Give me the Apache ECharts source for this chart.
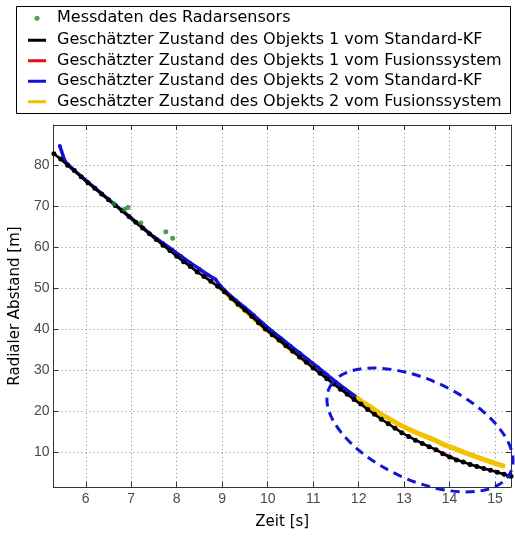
<!DOCTYPE html>
<html>
<head>
<meta charset="utf-8">
<script src="https://cdn.jsdelivr.net/npm/echarts@6/dist/echarts.min.js"></script>
<style>
html,body{margin:0;padding:0;background:#fff;}
#c{width:515px;height:538px;}
</style>
</head>
<body>
<div id="c"></div>
<script>
// ---- tick labels ----
var xTicks = [6, 7, 8, 9, 10, 11, 12, 13, 14, 15];
var yTicks = [10, 20, 30, 40, 50, 60, 70, 80];

// ---- series names ----
var names = [
  'Messdaten des Radarsensors',
  'Geschätzter Zustand des Objekts 1 vom Standard-KF',
  'Geschätzter Zustand des Objekts 1 vom Fusionssystem',
  'Geschätzter Zustand des Objekts 2 vom Standard-KF',
  'Geschätzter Zustand des Objekts 2 vom Fusionssystem'
];

// ---- radar measurements (time [s], distance [m]) ----
var measT = [6.62, 6.85, 6.93, 7.21, 7.76, 7.91];
var measR = [70.5, 69.2, 69.6, 65.8, 63.7, 62.1];

// ---- object 1, standard KF ----
var obj1KfT = [5.30,5.45,5.60,5.75,5.90,6.05,6.20,6.35,6.50,6.65,6.80,6.95,7.10,7.25,7.40,7.55,7.70,7.85,
  8.00,8.15,8.30,8.45,8.60,8.75,8.90,9.05,9.20,9.35,9.50,9.65,9.80,9.95,10.10,10.25,10.40,10.55,10.70,10.85,
  11.00,11.15,11.30,11.45,11.60,11.75,11.90,12.05,12.20,12.35,12.50,12.65,12.80,12.95,13.10,13.25,13.40,13.55,
  13.70,13.85,14.00,14.15,14.30,14.45,14.60,14.75,14.90,15.05,15.20,15.35];
var obj1KfR = [82.7,81.4,79.9,78.6,77.1,75.6,74.3,72.9,71.5,70.1,68.8,67.4,66.0,64.6,63.2,61.8,60.4,59.1,
  57.7,56.4,55.2,53.9,52.8,51.6,50.4,49.1,47.5,46.0,44.6,43.1,41.5,40.0,38.6,37.3,35.9,34.6,33.2,31.9,
  30.5,29.2,27.9,26.6,25.3,24.1,22.8,21.7,20.4,19.2,18.0,16.9,15.8,14.7,13.8,12.9,12.1,11.3,
  10.6,9.6,8.8,8.1,7.6,7.0,6.5,6.0,5.6,5.1,4.6,4.1];

// ---- object 1, fusion system (hidden beneath the KF estimate) ----
var obj1FusT = [5.30,5.90,6.50,7.10,7.70,8.30,8.90,9.50,10.10,10.70,11.30,11.90,12.50,13.10,13.70,14.30,14.90,15.35];
var obj1FusR = [82.7,77.1,71.5,66.0,60.4,55.2,50.4,44.6,38.6,33.2,27.9,22.8,18.0,13.8,10.6,7.6,5.6,4.1];

// ---- object 2, standard KF ----
var obj2KfT = [5.43,5.54,5.70,6.00,6.50,7.00,7.50,7.70,7.90,8.10,8.30,8.50,8.70,8.85,8.95,9.10,9.30,9.50,
  9.70,9.90,10.10,10.30,10.50,10.70,10.90,11.10,11.30,11.50,11.70,11.91];
var obj2KfR = [84.6,80.9,79.1,76.2,71.6,67.0,62.4,60.9,59.3,57.7,56.1,54.6,53.1,52.1,50.6,48.9,47.0,45.2,
  43.3,41.3,39.4,37.7,35.9,34.2,32.4,30.7,28.9,27.1,25.4,23.7];

// ---- object 2, fusion system ----
var obj2FusT = [8.90,9.10,9.30,9.50,9.70,9.90,10.10,10.30,10.50,10.70,10.90,11.10,11.30,11.50,11.70,11.90,
  12.10,12.30,12.50,12.70,12.90,13.10,13.30,13.50,13.70,13.90,14.10,14.30,14.50,14.70,14.90,15.10,15.22];
var obj2FusR = [50.6,48.6,46.6,44.6,42.6,40.6,38.8,37.0,35.2,33.4,31.7,30.0,28.4,26.8,25.2,23.7,
  22.1,20.7,19.2,17.9,16.7,15.6,14.6,13.7,12.8,11.7,10.9,10.0,9.2,8.4,7.6,6.9,6.5];

function pairs(t, r) { return t.map(function (v, i) { return [v, r[i]]; }); }

var X_MIN = 5.29, X_MAX = 15.35, Y_MIN = 1.5, Y_MAX = 89.7;
var gridLine = { show: true, lineStyle: { color: '#8a8a8a', width: 1, type: [1, 3] } };
var boxLine = { show: true, lineStyle: { color: '#333', width: 1 } };
var labelFont = { color: '#4a4a4a', fontFamily: 'Liberation Sans', fontSize: 14 };

var chart = echarts.init(document.getElementById('c'), null, { renderer: 'canvas' });
var lineIcon = 'path://M0,0 L18,0 L18,3 L0,3 Z';

chart.setOption({
  animation: false,
  backgroundColor: '#fff',
  grid: { left: 50, right: 4, top: 125, bottom: 51, containLabel: false },
  legend: [
    {
      data: [{ name: names[0], icon: 'circle' }],
      orient: 'vertical', left: 34.5, top: 8, padding: 0,
      itemWidth: 18, itemHeight: 5, itemGap: 0,
      textStyle: { fontFamily: 'DejaVu Sans', fontSize: 16, color: '#000', lineHeight: 20.5, padding: [0, 0, 0, 6] },
      selectedMode: false
    },
    {
      data: names.slice(1).map(function (n) { return { name: n, icon: lineIcon }; }),
      orient: 'vertical', left: 28, top: 30, padding: 0,
      itemWidth: 18, itemHeight: 5, itemGap: 0,
      textStyle: { fontFamily: 'DejaVu Sans', fontSize: 16, color: '#000', lineHeight: 20.5, padding: [0, 0, 0, 6] },
      selectedMode: false
    }
  ],
  xAxis: [
    {
      type: 'value', min: X_MIN, max: X_MAX, position: 'bottom',
      name: 'Zeit [s]', nameLocation: 'middle', nameGap: 28,
      nameTextStyle: { fontFamily: 'DejaVu Sans', fontSize: 15, color: '#000' },
      axisLine: boxLine,
      axisTick: { show: true, inside: true, length: 5, customValues: xTicks, lineStyle: { color: '#333' } },
      axisLabel: Object.assign({ customValues: xTicks, margin: 5 }, labelFont),
      splitLine: gridLine
    },
    {
      type: 'value', min: X_MIN, max: X_MAX, position: 'top',
      axisLine: boxLine,
      axisTick: { show: true, inside: true, length: 5, customValues: xTicks, lineStyle: { color: '#333' } },
      axisLabel: { show: false },
      splitLine: { show: false }
    }
  ],
  yAxis: [
    {
      type: 'value', min: Y_MIN, max: Y_MAX, position: 'left',
      name: 'Radialer Abstand [m]', nameLocation: 'middle', nameGap: 27,
      nameTextStyle: { fontFamily: 'DejaVu Sans', fontSize: 15, color: '#000' },
      axisLine: boxLine,
      axisTick: { show: true, inside: true, length: 5, customValues: yTicks, lineStyle: { color: '#333' } },
      axisLabel: Object.assign({ customValues: yTicks, margin: 4 }, labelFont),
      splitLine: gridLine
    },
    {
      type: 'value', min: Y_MIN, max: Y_MAX, position: 'right',
      axisLine: boxLine,
      axisTick: { show: true, inside: true, length: 5, customValues: yTicks, lineStyle: { color: '#333' } },
      axisLabel: { show: false },
      splitLine: { show: false }
    }
  ],
  series: [
    {
      name: names[0], type: 'scatter', data: pairs(measT, measR), z: 5,
      symbol: 'circle', symbolSize: 5, itemStyle: { color: '#1f8a1f' }
    },
    {
      name: names[4], type: 'line', data: pairs(obj2FusT, obj2FusR), z: 2,
      showSymbol: false, symbol: 'none', lineStyle: { color: '#f2c200', width: 5 }, itemStyle: { color: '#f2c200' }
    },
    {
      name: names[2], type: 'line', data: pairs(obj1FusT, obj1FusR), z: 2,
      showSymbol: false, symbol: 'none', lineStyle: { color: '#e01010', width: 2 }, itemStyle: { color: '#e01010' }
    },
    {
      name: names[3], type: 'line', data: pairs(obj2KfT, obj2KfR), z: 3,
      symbol: 'circle', symbolSize: 4, showSymbol: true,
      lineStyle: { color: '#1212dd', width: 3.5 }, itemStyle: { color: '#1212dd', borderWidth: 0 }
    },
    {
      name: names[1], type: 'line', data: pairs(obj1KfT, obj1KfR), z: 4,
      symbol: 'circle', symbolSize: 5, showSymbol: true,
      lineStyle: { color: '#000', width: 2.5 }, itemStyle: { color: '#000', borderWidth: 0 }
    }
  ],
  graphic: [
    {
      type: 'rect', left: 14, top: 4, z: 10, silent: true,
      shape: { x: 0, y: 0, width: 494, height: 107 },
      style: { fill: 'none', stroke: '#000', lineWidth: 1 }
    },
    {
      type: 'ellipse', x: 420, y: 430, rotation: -0.436, z: 10, silent: true,
      shape: { cx: 0, cy: 0, rx: 100, ry: 50 },
      style: { fill: 'none', stroke: '#1414d8', lineWidth: 3, lineDash: [9, 6] }
    }
  ]
});
</script>
</body>
</html>
